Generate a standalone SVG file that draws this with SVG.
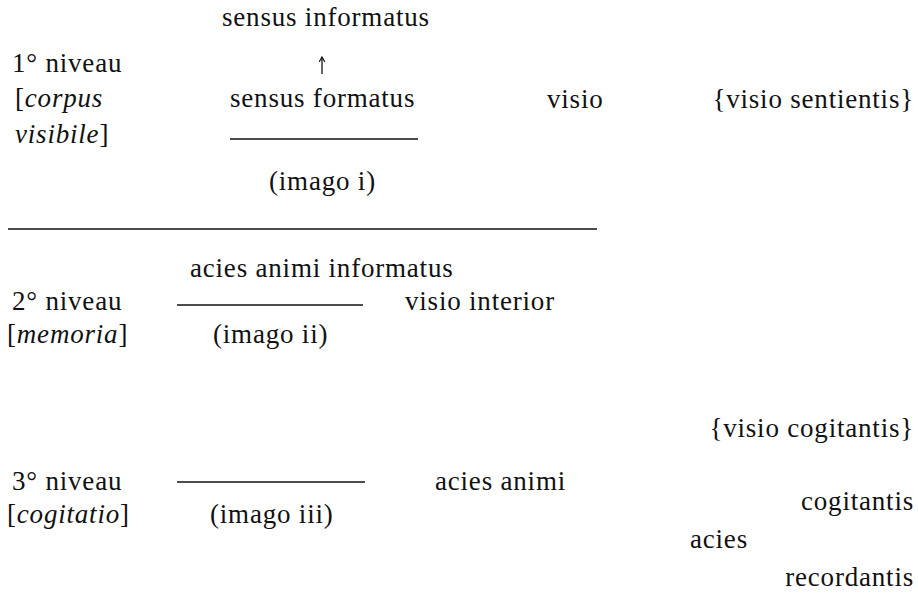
<svg xmlns="http://www.w3.org/2000/svg" width="918" height="593" viewBox="0 0 918 593" font-family="'Liberation Serif', 'Times New Roman', serif">
<defs>
<style>
text{font-family:"Liberation Serif","Times New Roman",serif;font-size:27px;fill:#111;letter-spacing:0.8px}
.it{font-style:italic}
.rule{stroke:#111;stroke-width:1.4;fill:none}
.conn{stroke:#111;stroke-width:1.3;fill:none}
</style>
<marker id="ah" viewBox="0 0 10 10" refX="9" refY="5" markerWidth="7" markerHeight="7" orient="auto" markerUnits="userSpaceOnUse">
<path d="M2,1 L9,5 L2,9" fill="none" stroke="#111" stroke-width="1.6"/>
</marker>
</defs>
<rect width="918" height="593" fill="#fff"/>

<g id="level1-label">
<text x="12" y="72">1° niveau</text>
<text x="15" y="107">[<tspan class="it">corpus</tspan></text>
<text x="15" y="143"><tspan class="it">visibile</tspan>]</text>
</g>
<g id="sensus-informatus"><text x="222" y="26">sensus informatus</text></g>
<g id="sensus-formatus"><text x="230" y="107">sensus formatus</text></g>
<g id="imago-i"><text x="269" y="190">(imago i)</text></g>
<g id="visio"><text x="547" y="108">visio</text></g>
<g id="visio-sentientis"><text x="914" y="108" text-anchor="end">{visio sentientis}</text></g>

<g id="level2-label">
<text x="12" y="310">2° niveau</text>
<text x="7" y="343">[<tspan class="it">memoria</tspan>]</text>
</g>
<g id="acies-animi-informatus"><text x="190" y="277">acies animi informatus</text></g>
<g id="imago-ii"><text x="213" y="343">(imago ii)</text></g>
<g id="visio-interior"><text x="405" y="310">visio interior</text></g>

<g id="visio-cogitantis"><text x="914" y="437" text-anchor="end">{visio cogitantis}</text></g>

<g id="level3-label">
<text x="12" y="490">3° niveau</text>
<text x="7" y="523">[<tspan class="it">cogitatio</tspan>]</text>
</g>
<g id="imago-iii"><text x="210" y="523">(imago iii)</text></g>
<g id="acies-animi"><text x="435" y="490">acies animi</text></g>
<g id="cogitantis"><text x="914" y="510" text-anchor="end">cogitantis</text></g>
<g id="acies"><text x="690" y="548">acies</text></g>
<g id="recordantis"><text x="914" y="586" text-anchor="end">recordantis</text></g>

<g id="rules">
<line class="rule" x1="230" y1="139" x2="418" y2="139"/>
<line class="rule" x1="8" y1="229" x2="597" y2="229"/>
<line class="rule" x1="177" y1="305" x2="363" y2="305"/>
<line class="rule" x1="177" y1="482" x2="365" y2="482"/>
</g>

<g id="connectors">
<line class="conn" x1="322" y1="74" x2="322" y2="57" marker-end="url(#ah)"/>
</g>
</svg>
